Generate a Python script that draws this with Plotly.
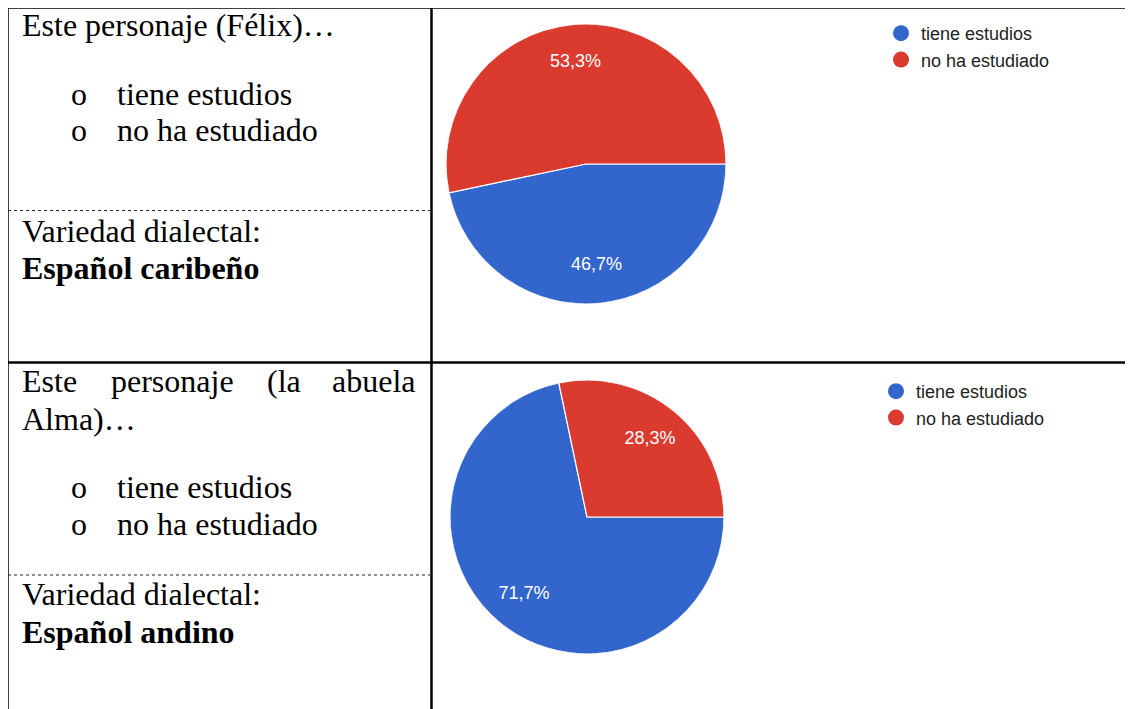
import plotly.graph_objects as go

W, H = 1133, 709
OFF = 8  # page offset of the figure (default body margin)

categories = ["tiene estudios", "no ha estudiado"]
felix_values = [46.7, 53.3]
alma_values = [71.7, 28.3]
slice_colors = ["#3366CC", "#DB3A2F"]

SERIF = "Liberation Serif"
SANS = "Liberation Sans"
FS = 32
LABEL_R = 0.73


def px_x(p):
    return (p - OFF) / W


def px_y(p):
    return 1 - (p - OFF) / H


def slice_geometry(vals):
    """Mid angle and angular width of each slice, starting at 3 o'clock, clockwise."""
    total = sum(vals)
    mids, widths, cum = [], [], 0.0
    for v in vals:
        mids.append(90 + 360 * (cum + v / 2) / total)
        widths.append(360 * v / total)
        cum += v
    return mids, widths


fig = go.Figure()

pies = [
    (felix_values, (446, 726), (24, 304), "polar"),
    (alma_values, (450, 724), (380, 654), "polar2"),
]
polar_layouts = {}
for vals, (xa, xb), (ya, yb), pname in pies:
    dom = dict(x=[px_x(xa), px_x(xb)], y=[px_y(yb), px_y(ya)])
    mids, widths = slice_geometry(vals)
    fig.add_trace(go.Barpolar(
        r=[1] * len(vals), theta=mids, width=widths, base=0,
        marker=dict(color=slice_colors, line=dict(color="white", width=1.2)),
        customdata=categories, hovertemplate="%{customdata}<extra></extra>",
        subplot=pname, showlegend=False,
    ))
    fig.add_trace(go.Scatterpolar(
        r=[LABEL_R] * len(vals), theta=mids, mode="text",
        customdata=vals, texttemplate="%{customdata:.1f}%",
        textfont=dict(family=SANS, size=18, color="white"),
        subplot=pname, showlegend=False, hoverinfo="skip", cliponaxis=False,
    ))
    polar_layouts[pname] = dict(
        domain=dom, bgcolor="rgba(0,0,0,0)", hole=0,
        radialaxis=dict(range=[0, 1], visible=False),
        angularaxis=dict(rotation=90, direction="clockwise", visible=False),
    )

# Legend entries (circle markers)
for leg in ["legend", "legend2"]:
    for cat, col in zip(categories, slice_colors):
        fig.add_trace(go.Scatter(
            x=[None], y=[None], mode="markers", name=cat,
            marker=dict(symbol="circle", size=16, color=col),
            legend=leg, showlegend=True,
        ))

# Table lines (page-pixel coordinates via hidden axes)
shapes = []
line_solid = dict(color="black", width=2.5)
shapes.append(dict(type="line", x0=6.5, x1=W + OFF, y0=7.5, y1=7.5, line=line_solid))
shapes.append(dict(type="line", x0=7.5, x1=7.5, y0=6.5, y1=H + OFF, line=line_solid))
shapes.append(dict(type="line", x0=431.5, x1=431.5, y0=6.5, y1=H + OFF, line=line_solid))
shapes.append(dict(type="line", x0=6.5, x1=W + OFF, y0=362.5, y1=362.5, line=line_solid))
line_dot = dict(color="#222", width=1, dash="dot")
shapes.append(dict(type="line", x0=8, x1=430, y0=210.5, y1=210.5, line=line_dot))
shapes.append(dict(type="line", x0=8, x1=430, y0=575, y1=575, line=line_dot))
for s in shapes:
    s.update(xref="x", yref="y", layer="above")

# Text lines in the left cells: (text, x, baseline)
text_lines = [
    ("Este personaje (Félix)…", 21, 36),
    ("o", 70, 105), ("tiene estudios", 116, 105),
    ("o", 70, 141), ("no ha estudiado", 116, 141),
    ("Variedad dialectal:", 21, 242),
    ("<b>Español caribeño</b>", 21, 279),
    ("Este", 21, 392), ("personaje", 110, 392), ("(la", 266, 392), ("abuela", 331, 392),
    ("Alma)…", 21, 430),
    ("o", 70, 498), ("tiene estudios", 116, 498),
    ("o", 70, 535), ("no ha estudiado", 116, 535),
    ("Variedad dialectal:", 21, 605),
    ("<b>Español andino</b>", 21, 643),
]
annotations = []
for txt, x, base in text_lines:
    annotations.append(dict(
        text=txt, x=x, y=base - 0.35 * FS, xref="x", yref="y",
        xanchor="left", yanchor="middle", showarrow=False,
        font=dict(family=SERIF, size=FS, color="black"), borderpad=0,
    ))

leg_font = dict(family=SANS, size=18, color="#222")
fig.update_layout(
    width=W, height=H,
    margin=dict(l=0, r=0, t=0, b=0),
    paper_bgcolor="white", plot_bgcolor="white",
    separators=", ",
    xaxis=dict(range=[OFF, W + OFF], visible=False, domain=[0, 1], fixedrange=True),
    yaxis=dict(range=[H + OFF, OFF], visible=False, domain=[0, 1], fixedrange=True),
    shapes=shapes, annotations=annotations,
    legend=dict(x=px_x(881), y=px_y(15), xanchor="left", yanchor="top",
                font=leg_font, bgcolor="rgba(0,0,0,0)", itemsizing="trace"),
    legend2=dict(x=px_x(876), y=px_y(373), xanchor="left", yanchor="top",
                 font=leg_font, bgcolor="rgba(0,0,0,0)", itemsizing="trace"),
    **polar_layouts,
)

fig.write_html("out.html")
